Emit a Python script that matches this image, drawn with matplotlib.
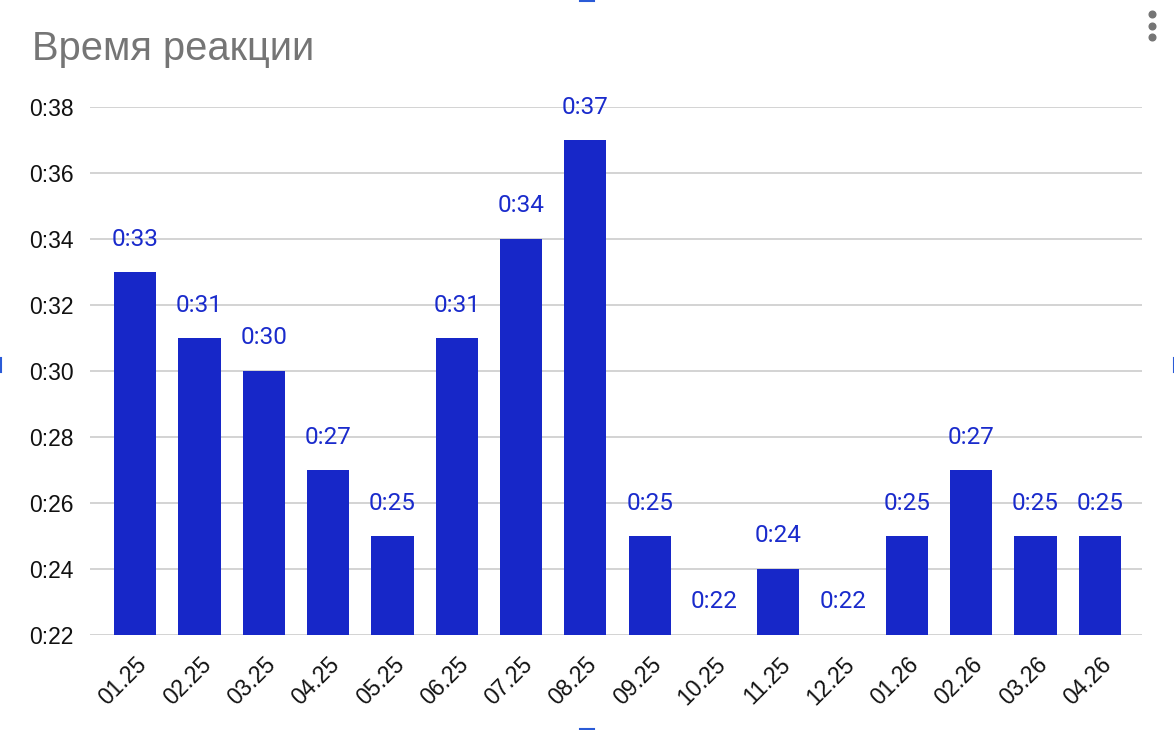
import matplotlib
matplotlib.use("Agg")
import matplotlib.pyplot as plt
from matplotlib.lines import Line2D
import numpy as np

months = ["01.25", "02.25", "03.25", "04.25", "05.25", "06.25", "07.25", "08.25",
          "09.25", "10.25", "11.25", "12.25", "01.26", "02.26", "03.26", "04.26"]
seconds = [33, 31, 30, 27, 25, 31, 34, 37, 25, 22, 24, 22, 25, 27, 25, 25]
yticks = [22, 24, 26, 28, 30, 32, 34, 36, 38]

bar_color = "#1727c8"
label_color = "#1a2bcc"

fig = plt.figure(figsize=(11.74, 7.30), dpi=100)
W, H = 1174, 730
ax = fig.add_axes([90 / W, (H - 635) / H, (1142 - 90) / W, (635 - 107) / H])

x = np.arange(len(months))
ax.bar(x, seconds, width=42 / 64, color=bar_color, zorder=3)
ax.set_ylim(22, 38)
ax.set_xlim(-0.5 - 13 / 64, len(months) - 0.5 + 10 / 64)

ax.set_yticks(yticks)
ax.set_yticklabels([f"0:{v:02d}" for v in yticks], fontsize=16.5,
                   family=["Liberation Sans", "DejaVu Sans"], color="#111111")
ax.set_xticks(x)
ax.set_xticklabels(months, rotation=45, ha="right", va="top", rotation_mode="anchor",
                   fontsize=16.5, family=["Liberation Sans", "DejaVu Sans"], color="#111111")
ax.tick_params(axis="both", length=0)
ax.tick_params(axis="y", pad=12)
ax.tick_params(axis="x", pad=13)
ax.grid(axis="y", color="#cccccc", linewidth=1.2, zorder=0)
ax.set_axisbelow(True)
for s in ax.spines.values():
    s.set_visible(False)

for xi, v in zip(x, seconds):
    ax.text(xi, v + 1.0, f"0:{v:02d}", ha="center", va="center", fontsize=17.5,
            family=["Roboto", "DejaVu Sans"], color=label_color, zorder=4)

fig.text(32 / W, 1 - 49 / H, "Время реакции", fontsize=28.7, color="#757575",
         family=["Liberation Sans", "DejaVu Sans"], ha="left", va="center")

# menu dots
for yy in (14, 26, 37):
    fig.add_artist(Line2D([1151.5 / W], [1 - yy / H], marker="o", markersize=4.8,
                          color="#757575", transform=fig.transFigure))

# selection handles
hc = "#2a5bd7"
fig.add_artist(Line2D([580 / W, 594 / W], [1 - 0.5 / H] * 2, color=hc, lw=1.5, transform=fig.transFigure))
fig.add_artist(Line2D([580 / W, 594 / W], [1 - 729 / H] * 2, color=hc, lw=1.5, transform=fig.transFigure))
fig.add_artist(Line2D([0.5 / W] * 2, [1 - 358 / H, 1 - 372 / H], color=hc, lw=1.5, transform=fig.transFigure))
fig.add_artist(Line2D([1173.5 / W] * 2, [1 - 358 / H, 1 - 372 / H], color=hc, lw=1.5, transform=fig.transFigure))

fig.savefig("out.png", dpi=100, facecolor="white")
